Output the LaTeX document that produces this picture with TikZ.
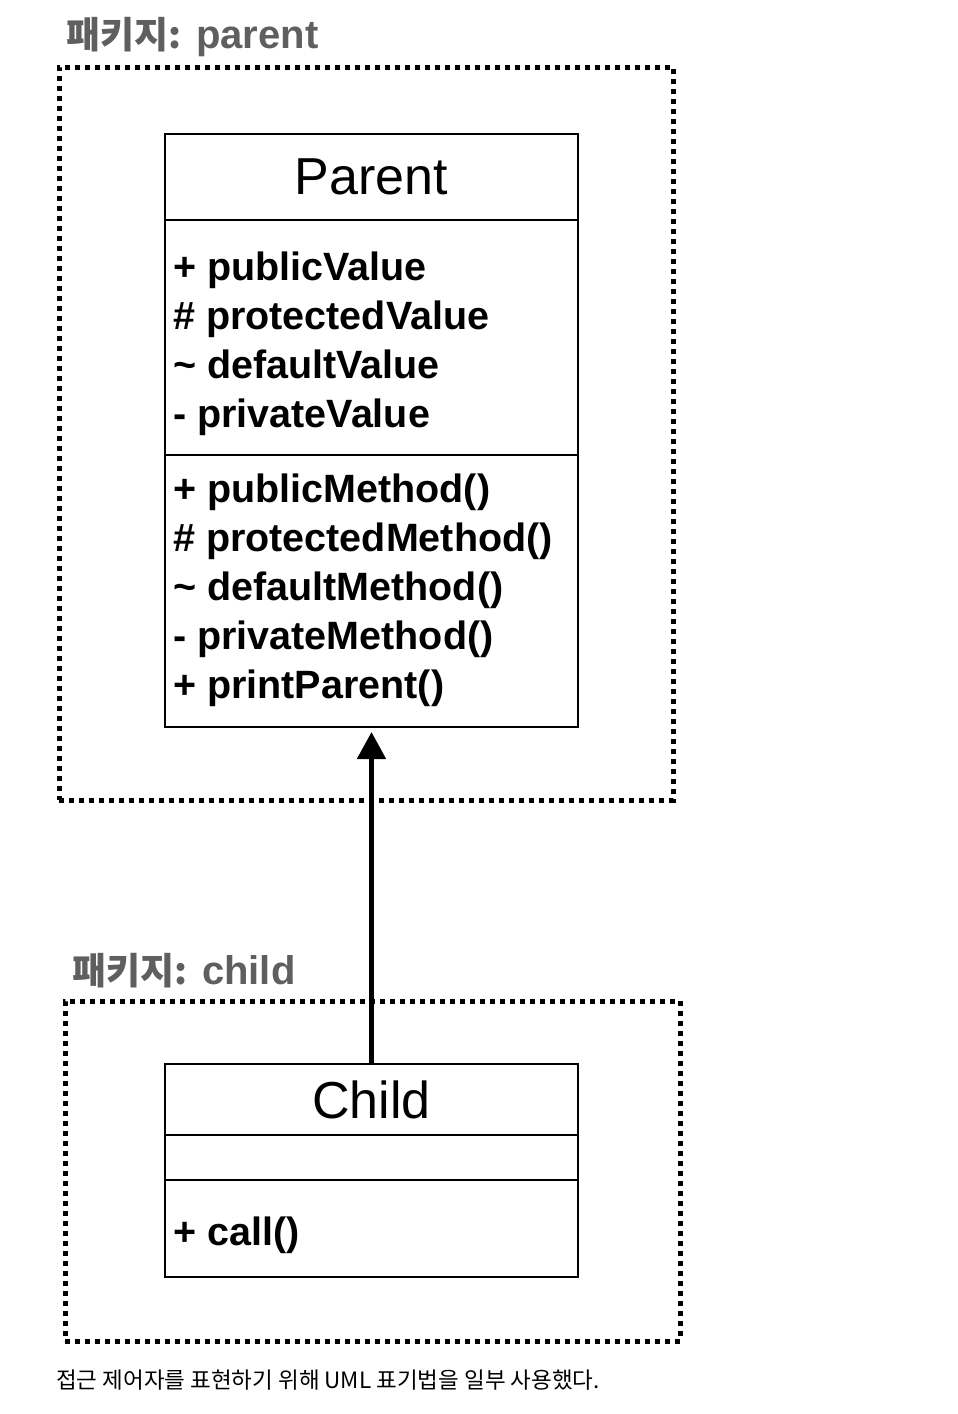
\documentclass[tikz,border=0pt]{standalone}
\usepackage{fontspec}
\setmainfont{Liberation Sans}
\newfontfamily\cjk{Noto Sans CJK KR}
\usetikzlibrary{calc,positioning,arrows.meta}
\definecolor{pkggray}{HTML}{5F5F5F}
\newcommand{\BoxWidth}{413pt}
\newcommand{\PkgKo}[1]{{\cjk\bfseries\fontsize{37}{44}\selectfont #1}}
\tikzset{ClassBox/.style={
    draw=black,
    line width=1.5pt,
    minimum width=\BoxWidth,
    inner sep=0pt,
    outer sep=0pt,
    align=center,
    }
}
\tikzset{Package/.style={
    draw=black,
    line width=5pt,
    dash pattern=on 5pt off 5pt,
    inner sep=0pt,
    outer sep=0pt,
    }
}
\begin{document}
\begin{tikzpicture}[x=1pt, y=-1pt,
    member/.style={anchor=base west, inner sep=0pt,
        font=\fontsize{39.5}{46}\selectfont\bfseries},
    pkglabel/.style={anchor=base west, inner sep=0pt, text=pkggray,
        font=\fontsize{40}{44}\selectfont\bfseries},
    title/.style={font=\fontsize{52}{60}\selectfont},
    inherit/.style={line width=5pt, -{Triangle[width=28pt,length=27pt]}},
]
\useasboundingbox (0,0) rectangle (958,1414);

% package parent
\node [Package, minimum width=614pt, minimum height=733pt, anchor=north west] (ppkg) at (59,67) {};
\node [pkglabel] (plabel) at (66,48) {\PkgKo{패키지:} parent};
\node [ClassBox, title, minimum height=86pt, anchor=north west] (phead) at (165,134) {Parent};
\node [ClassBox, minimum height=235pt, below=0pt of phead] (pattr) {};
\node [ClassBox, minimum height=272pt, below=0pt of pattr] (pmeth) {};
\foreach \txt [count=\i] in {+ publicValue, \# protectedValue, \textasciitilde{} defaultValue, - privateValue}
    \node [member] (pa\i) at ($(pattr.north west)+(8,{60+49*(\i-1)})$) {\txt};
\foreach \txt [count=\i] in {+ publicMethod(), \# protectedMethod(), \textasciitilde{} defaultMethod(), - privateMethod(), + printParent()}
    \node [member] (pm\i) at ($(pmeth.north west)+(8,{47+49*(\i-1)})$) {\txt};

% package child
\node [Package, minimum width=615pt, minimum height=340pt, anchor=north west] (cpkg) at (65,1001) {};
\node [pkglabel] (clabel) at (72,984) {\PkgKo{패키지:} child};
\node [ClassBox, title, minimum height=71pt, anchor=north west] (chead) at (165,1064) {Child};
\node [ClassBox, minimum height=45pt, below=0pt of chead] (cattr) {};
\node [ClassBox, minimum height=97pt, below=0pt of cattr] (cmeth) {};
\node [member] (cm1) at ($(cmeth.north west)+(8,65)$) {+ call()};

\draw [inherit, shorten >=5pt] (chead) -- (pmeth);

\node [anchor=base west, inner sep=0pt, font=\cjk\fontsize{22.5}{27}\selectfont] (note) at (56,1388)
    {접근 제어자를 표현하기 위해 UML 표기법을 일부 사용했다.};
\end{tikzpicture}
\end{document}
